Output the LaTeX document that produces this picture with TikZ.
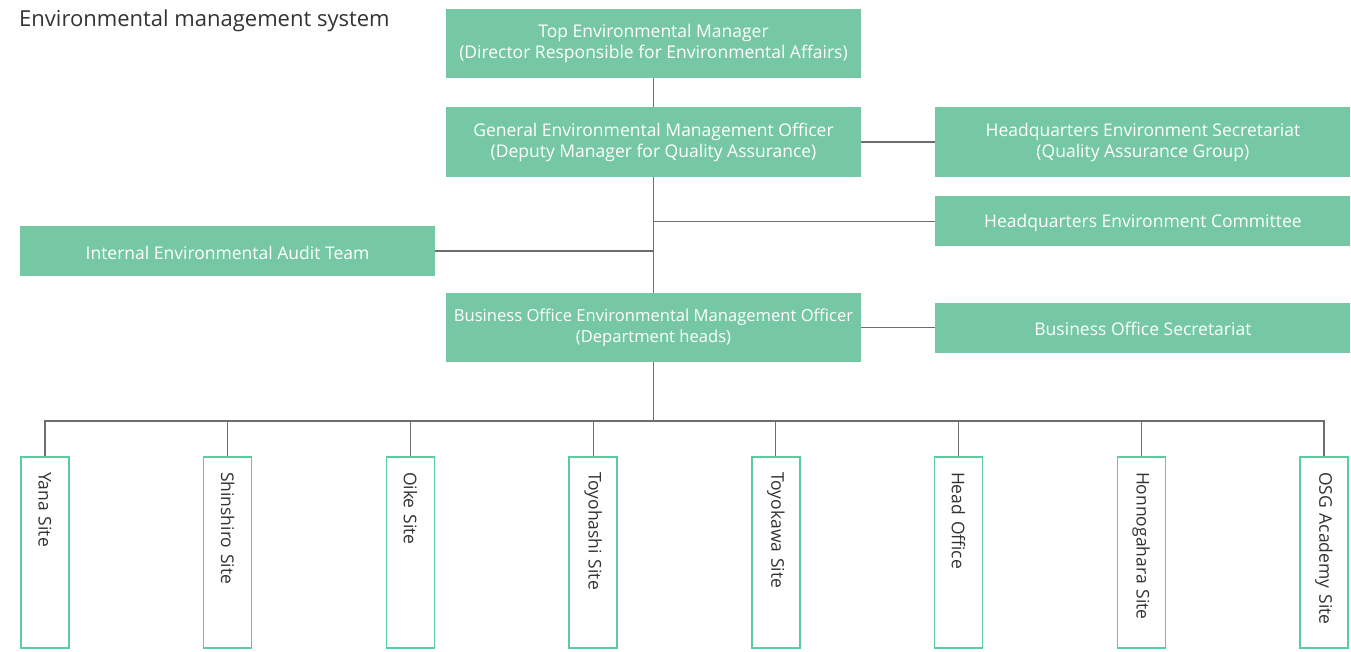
\documentclass[tikz,border=0pt]{standalone}
\usepackage{fontspec}
\setmainfont{Open Sans}
\usetikzlibrary{positioning}
\definecolor{boxgreen}{HTML}{76C8A5}
\definecolor{sitegreen}{HTML}{5CCB9E}
\definecolor{linegray}{HTML}{6E6E6E}
\definecolor{textgray}{HTML}{333333}

\begin{document}
\begin{tikzpicture}[x=1pt, y=-1pt,
greennode/.style={rectangle, fill=boxgreen, text=white, align=center, minimum width=415pt, minimum height=70pt, inner sep=0pt, font=\fontsize{17.5}{21}\selectfont, execute at begin node={\rule{0pt}{17pt}}},
flatnode/.style={greennode, minimum height=50pt},
sitenode/.style={rectangle, draw=sitegreen, line width=1.4pt, fill=white, text=textgray, rotate=-90, minimum width=191pt, minimum height=48pt, text width=161pt, inner xsep=15pt, inner ysep=0pt, align=left, font=\fontsize{17.5}{20}\selectfont},
link/.style={draw=linegray, line width=1.2pt},
]
\useasboundingbox (0,0) rectangle (1351,652);

% Title
\node[anchor=base west, inner sep=0pt, text=textgray, font=\fontsize{22}{26}\selectfont] (title) at (19,27) {Environmental management system};

% Nodes
\node[greennode, minimum height=69pt] (top) at (653.5,43.5) {Top Environmental Manager\\(Director Responsible for Environmental Affairs)};
\node[greennode] (gemo) at (653.5,142) {General Environmental Management Officer\\(Deputy Manager for Quality Assurance)};
\node[greennode] (hqsec) [right=74pt of gemo] {Headquarters Environment Secretariat\\(Quality Assurance Group)};
\node[flatnode] (hqcom) [below=19pt of hqsec] {Headquarters Environment Committee};
\node[flatnode] (audit) at (227.5,251) {Internal Environmental Audit Team};
\node[greennode, minimum height=69pt, font=\fontsize{16.6}{21}\selectfont] (bomo) at (653.5,327.5) {Business Office Environmental Management Officer\\(Department heads)};
\node[flatnode] (bosec) [right=74pt of bomo] {Business Office Secretariat};

\coordinate (bus) at (653.5,421);

\foreach \name [count=\i from 0] in {Yana Site, Shinshiro Site, Oike Site, Toyohashi Site, Toyokawa Site, Head Office, Honnogahara Site, OSG Academy Site}
  \node[sitenode] (site\i) at (45+182.7*\i,552.5) {\name};

% Lines
\draw[link] (top) -- (gemo);
\draw[link] (gemo) -- (bomo);
\draw[link] (gemo) -- (hqsec);
\draw[link] (hqcom.west) -- (hqcom.west -| gemo.south);
\draw[link] (audit.east) -- (audit.east -| gemo.south);
\draw[link] (bomo) -- (bosec);
\draw[link] (bomo) -- (bus);
\foreach \i in {0,...,7}
  \draw[link] (bus) -| (site\i.west);

\end{tikzpicture}
\end{document}
